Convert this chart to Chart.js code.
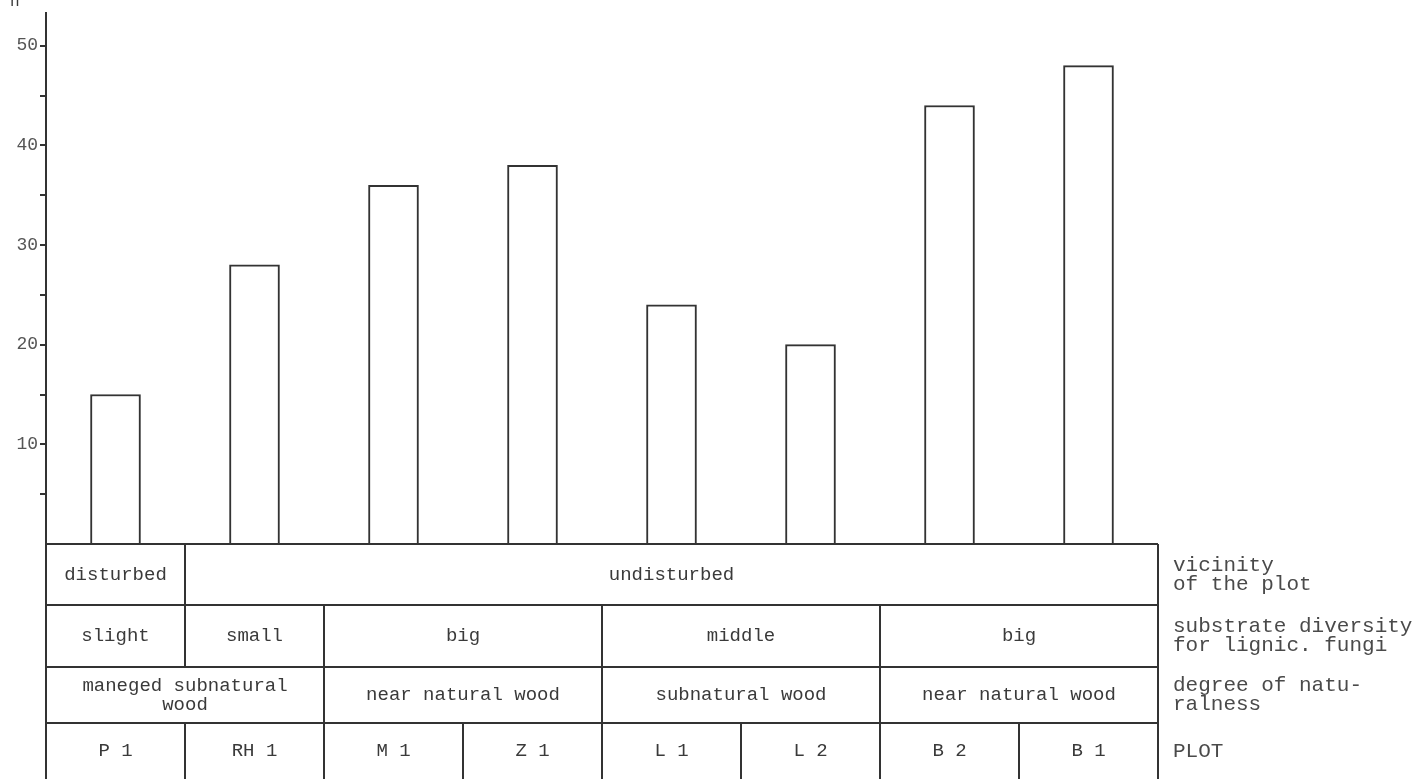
<!DOCTYPE html>
<html>
<head>
<meta charset="utf-8">
<script src="https://cdn.jsdelivr.net/npm/chart.js@4.4.1/dist/chart.umd.min.js"></script>
<style>
    html, body { margin: 0; padding: 0; background: #fff; }
    #wrap { width: 1423px; height: 779px; position: relative; }
</style>
</head>
<body>
<div id="wrap"><canvas id="fungiChart"></canvas></div>
<script>
const plots = ['P 1', 'RH 1', 'M 1', 'Z 1', 'L 1', 'L 2', 'B 2', 'B 1'];
const speciesCount = [15, 28, 36, 38, 24, 20, 44, 48];

// [text, number of plot columns covered]
const vicinity = [['disturbed', 1], ['undisturbed', 7]];
const substrate = [['slight', 1], ['small', 1], ['big', 2], ['middle', 2], ['big', 2]];
const naturalness = [['maneged subnatural\nwood', 2], ['near natural wood', 2], ['subnatural wood', 2], ['near natural wood', 2]];
const plotRow = plots.map(p => [p, 1]);

const rowTitles = [
    ['vicinity', 'of the plot'],
    ['substrate diversity', 'for lignic. fungi'],
    ['degree of natu-', 'ralness'],
    ['PLOT']
];

const yTickLabels = [10, 20, 30, 40, 50];
const yMax = 53.3;

const rowHeights = [61, 62, 56, 56];
const ink = '#333';
const mono = "'Liberation Mono', 'DejaVu Sans Mono', monospace";

const tablePlugin = {
    id: 'plotTable',
    afterDraw(chart) {
        const { ctx, chartArea } = chart;
        const x = chart.scales.x;
        const left = chartArea.left, right = chartArea.right;
        const edge = k => x.getPixelForValue(k - 0.5);
        const rows = [vicinity, substrate, naturalness, plotRow];

        ctx.save();
        ctx.strokeStyle = ink;
        ctx.lineWidth = 2;
        ctx.fillStyle = '#3a3a3a';
        ctx.font = '19px ' + mono;
        ctx.textAlign = 'center';
        ctx.textBaseline = 'middle';

        let top = chartArea.bottom;
        const bottom = top + rowHeights.reduce((a, b) => a + b, 0);

        // outer verticals
        ctx.beginPath();
        ctx.moveTo(left, top); ctx.lineTo(left, bottom);
        ctx.moveTo(right, top); ctx.lineTo(right, bottom);
        ctx.stroke();

        rows.forEach((row, r) => {
            const h = rowHeights[r];
            ctx.beginPath();
            ctx.moveTo(left, top); ctx.lineTo(right, top);
            ctx.stroke();

            let k = 0;
            row.forEach(([text, span], i) => {
                const x0 = edge(k), x1 = edge(k + span);
                if (i > 0) {
                    ctx.beginPath();
                    ctx.moveTo(x0, top); ctx.lineTo(x0, top + h);
                    ctx.stroke();
                }
                const lines = text.split('\n');
                const lh = 19;
                const cy = top + h / 2 - (lines.length - 1) * lh / 2;
                lines.forEach((ln, j) => ctx.fillText(ln, (x0 + x1) / 2, cy + j * lh));
                k += span;
            });

            // row title on the right
            ctx.save();
            ctx.textAlign = 'left';
            ctx.fillStyle = '#4a4a4a';
            ctx.font = '21px ' + mono;
            const t = rowTitles[r];
            const lh = 19;
            const cy = top + h / 2 - (t.length - 1) * lh / 2;
            t.forEach((ln, j) => ctx.fillText(ln, right + 15, cy + j * lh));
            ctx.restore();

            top += h;
        });

        // axis label
        ctx.textAlign = 'left';
        ctx.font = '16px ' + mono;
        ctx.fillText('n', 10, 2);
        ctx.restore();
    }
};

new Chart(document.getElementById('fungiChart'), {
    type: 'bar',
    data: {
        labels: plots,
        datasets: [{
            label: 'n',
            data: speciesCount,
            backgroundColor: '#fff',
            borderColor: ink,
            borderWidth: 2,
            borderSkipped: 'bottom',
            barThickness: 50
        }]
    },
    options: {
        responsive: true,
        maintainAspectRatio: false,
        animation: false,
        layout: { padding: { top: 8, right: 265, bottom: 235, left: 0 } },
        plugins: {
            legend: { display: false },
            tooltip: { enabled: false }
        },
        scales: {
            x: { display: false },
            y: {
                min: 0,
                max: yMax,
                afterFit: s => { s.width = 46; },
                border: { display: true, color: ink, width: 2 },
                grid: {
                    drawOnChartArea: false,
                    drawTicks: true,
                    tickLength: 6,
                    lineWidth: 2,
                    color: c => (c.tick && c.tick.value === 0) ? 'rgba(0,0,0,0)' : ink
                },
                ticks: {
                    stepSize: 5,
                    includeBounds: false,
                    padding: 2,
                    color: '#555',
                    font: { family: mono, size: 18 },
                    callback: v => yTickLabels.includes(v) ? String(v) : ''
                }
            }
        }
    },
    plugins: [tablePlugin]
});
</script>
</body>
</html>
